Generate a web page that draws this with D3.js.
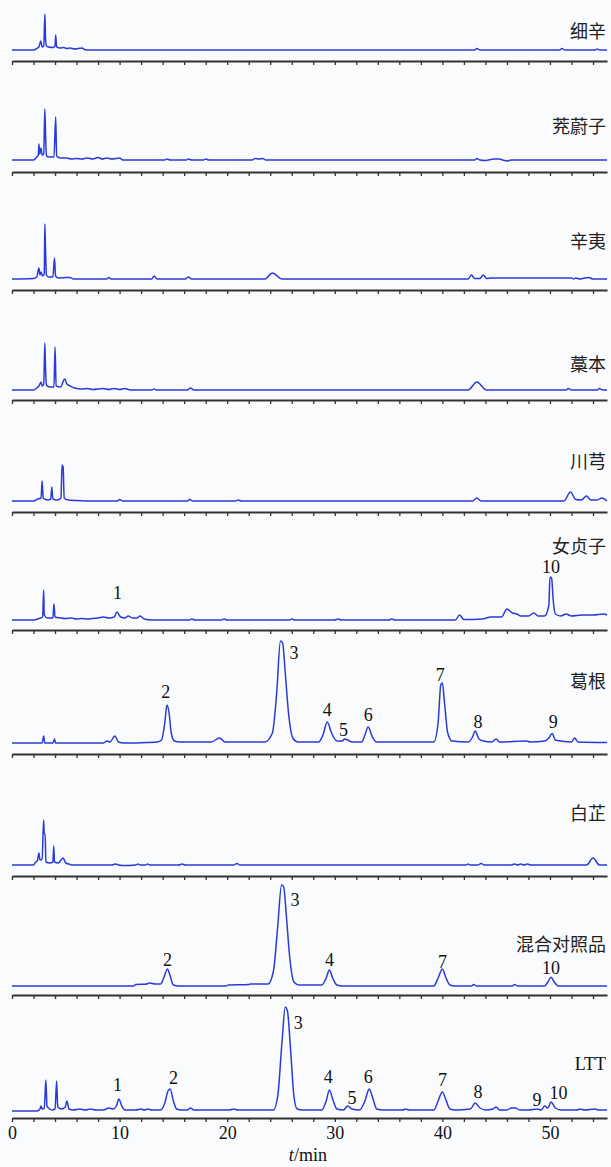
<!DOCTYPE html>
<html><head><meta charset="utf-8">
<script src="https://cdn.jsdelivr.net/npm/d3@7/dist/d3.min.js"></script>
<style>
html,body{margin:0;padding:0;background:#fafbfc;}
svg{display:block;}
.lab{font-family:"Noto Sans CJK SC","Noto Sans",sans-serif;font-size:18px;fill:#222;}
.num{font-family:"Liberation Serif","Times New Roman",serif;font-size:18px;fill:#111;}
</style></head>
<body>
<svg id="c" width="611" height="1167"></svg>
<script>
// ---------- data (time in min, signal in arbitrary units above baseline) ----------
const sampleNames = ["细辛","茺蔚子","辛夷","藁本","川芎","女贞子","葛根","白芷","混合对照品","LTT"];
const tickLabels = [0,10,20,30,40,50];
const xAxisTitle = "min";

const xixin = [[0,0],[2.0,0],[2.3,1.5],[2.5,3],[2.67,9],[2.8,3],[2.95,4],[3.06,36],[3.12,11],[3.2,4],[3.4,3],[3.8,2.5],[4.0,4],[4.06,15],[4.15,3],[4.5,2],[4.8,2.5],[5.1,1.5],[5.4,2],[5.8,1],[6.5,2],[6.8,0.3],[7.2,0],[43,0],[43.2,1.5],[43.5,0],[50.9,0],[51.1,1.5],[51.4,0],[54.2,0],[54.4,1],[54.6,0],[55.3,0]];
const chongweizi = [[0,0],[2.0,0],[2.3,3],[2.45,5],[2.5,16],[2.58,6],[2.7,12],[2.8,5],[2.95,6],[3.05,51],[3.12,25],[3.2,4],[3.5,3],[3.9,3],[4.06,43],[4.15,4],[4.5,2],[5.1,2],[5.5,1],[6.0,1.5],[6.5,1],[7.0,2],[7.5,1],[8.0,2.5],[8.4,1],[8.8,2],[9.3,1],[10,2],[10.3,0],[14.2,0],[14.4,1],[14.7,0],[16.2,0],[16.4,1],[16.7,0],[17.8,0],[18.0,1],[18.3,0],[22.3,0],[22.6,1.5],[23.0,1],[23.3,1.5],[23.6,0],[43.0,0],[43.2,1.5],[43.5,0],[44,-0.5],[44.8,1],[45.3,1],[45.6,0],[46,-1],[46.4,0],[55.3,0]];
const xinyi = [[0,0],[2.0,0.5],[2.3,2],[2.5,11],[2.6,4],[2.7,7],[2.85,3],[3.0,5],[3.05,55],[3.12,28],[3.2,4],[3.4,2],[3.8,2],[3.95,21],[4.05,3],[4.3,1],[5.0,1.5],[5.4,1.5],[5.7,0],[8.8,0],[9.0,1.5],[9.2,0],[13.0,0],[13.2,3],[13.5,0],[16.1,0],[16.4,2],[16.7,0],[23.5,0],[24.2,6],[25.1,0],[42.4,0],[42.7,4],[43.0,0.5],[43.5,0.5],[43.8,4],[44.1,0.5],[44.5,1],[52,1],[52.2,0],[52.4,1],[52.8,0],[53.2,1],[53.6,1.5],[54,0],[55.3,0]];
const gaoben = [[0,0],[2.0,0],[2.3,2],[2.5,4],[2.7,8],[2.8,4],[2.95,6],[3.05,47],[3.1,28],[3.2,5],[3.5,3],[3.9,3],[4.0,43],[4.1,4],[4.5,3],[4.9,11],[5.1,6],[5.4,4],[5.8,2],[6.5,1],[7.0,1.5],[7.5,0.5],[8.5,1.5],[9.0,0.5],[9.5,1.5],[10,0.5],[10.5,1.5],[11,0],[13,0],[13.2,1],[13.4,0],[16.3,0],[16.6,2],[16.9,0],[42.4,0],[43.2,8],[44.1,0],[51.5,0],[51.7,1.5],[52,0],[54.4,0],[54.6,1.5],[54.9,0],[55.3,0]];
const chuanxiong = [[0,0],[2.0,0],[2.4,2],[2.7,3],[2.8,20],[2.9,3],[3.3,1],[3.6,2],[3.7,14],[3.8,2],[4.2,1],[4.55,3],[4.65,36],[4.75,34],[4.85,3],[5.2,1],[6,0.5],[7.5,0],[9.8,0],[10,1.5],[10.3,0],[16.3,0],[16.5,1.5],[16.8,0],[20.8,0],[21,1],[21.3,0],[42.8,0],[43.2,3],[43.6,0],[51.3,0],[51.9,9],[52.4,1.5],[52.9,1],[53.4,5],[53.8,1],[54.4,1],[54.8,3],[55.3,0]];
const nvzhenzi = [[0,0],[2.0,0],[2.5,1.5],[2.85,3],[2.94,30],[3.0,5],[3.3,2],[3.8,2],[3.9,16],[4.0,3],[4.5,2],[5,1.5],[5.5,2],[6,1],[6.5,1.5],[7,1],[7.5,1.5],[8.0,2],[8.5,3],[9,2],[9.5,3],[9.75,8],[10.1,3],[10.5,2],[10.8,4],[11.2,2],[11.6,2],[11.9,4],[12.3,1],[13,0],[16.5,0],[16.7,1],[17,0],[19.5,0],[19.7,1],[20,0],[25.8,0],[26,1],[26.3,0],[30,0],[30.3,1],[30.6,0],[35,0],[35.3,1],[35.6,0],[41.2,0],[41.6,5],[42,0.5],[43.7,1],[44.5,3],[45.5,3],[46,11],[46.5,7],[46.9,6],[47.3,4],[48,4],[48.5,7],[48.9,4],[49.5,4],[49.9,15],[50.0,43],[50.15,42],[50.3,20],[50.5,6],[51,4],[51.5,6],[52,4],[53,5],[54,5],[55,6],[55.3,5]];
const gegen = [[0,0],[2.8,0],[2.94,7],[3.05,0],[3.8,0],[3.95,4],[4.05,0],[8.5,0],[8.85,2],[9.1,1],[9.56,7],[9.9,1],[10.4,0],[12.6,0.5],[13.5,1],[13.9,3],[14.2,20],[14.4,38],[14.6,30],[14.8,10],[15.1,2],[15.6,1],[18.5,1],[19.3,5],[19.8,1],[21,1],[23.5,1],[24.2,10],[24.6,50],[24.95,102],[25.15,100],[25.4,70],[25.7,30],[26.1,5],[26.6,1],[28.5,1],[28.9,8],[29.3,21],[29.7,10],[30.2,2],[30.7,2],[30.9,4],[31.2,3],[31.6,1],[32.5,1],[32.8,8],[33.1,16],[33.5,6],[33.9,1],[39.2,1],[39.6,20],[39.85,58],[40.0,60],[40.2,40],[40.5,10],[40.9,2],[42.4,1],[42.8,6],[43.05,12],[43.4,4],[43.8,2],[44.6,1],[45.0,4],[45.3,1],[47.8,2],[48.2,1],[49.5,2],[49.9,5],[50.2,9.5],[50.5,3],[51,2],[52,1],[52.3,5],[52.6,1],[55.3,0.5]];
const baizhi = [[0,0],[2.0,0],[2.2,3],[2.35,4],[2.5,12],[2.6,5],[2.8,6],[2.94,45],[3.0,31],[3.08,31],[3.15,3],[3.5,2],[3.8,3],[3.88,19],[3.95,3],[4.3,2],[4.75,7],[5.0,2],[5.3,1],[5.5,0],[9.3,0],[9.6,1],[9.9,0],[10.3,-0.5],[11.5,0],[11.7,1],[11.9,0],[12.4,0],[12.6,1],[12.8,0],[15.5,0],[15.8,1],[16.1,0],[20.6,0],[20.9,1.5],[21.2,0],[42.2,0],[42.4,1],[42.6,0],[43.3,0],[43.6,1.5],[43.9,0],[46.4,0],[46.7,1],[47.0,0],[47.3,1],[47.6,0],[47.9,1],[48.2,0],[53.4,0],[54,7],[54.6,0],[55.3,0]];
const mixedStd = [[0,0],[11.3,0],[11.5,1.5],[12.5,2],[12.8,3],[13.3,2],[13.8,2],[14.1,8],[14.45,17],[14.7,10],[15.0,1],[15.5,0],[19.9,0],[20.1,1],[22.0,1.5],[22.2,2],[23.8,2],[24.3,15],[24.7,60],[25.05,101],[25.25,99],[25.5,70],[25.8,30],[26.2,4],[26.7,1],[28.8,1],[29.2,8],[29.5,16],[29.8,8],[30.2,1],[30.7,0],[39.2,0],[39.6,8],[40.0,17],[40.3,9],[40.7,1],[41.2,0],[42.7,0],[42.9,1.5],[43.2,0],[46.5,0],[46.7,1.5],[47.0,0],[49.5,0],[49.8,4],[50.1,8.7],[50.4,4],[50.8,0],[55.3,0]];
const ltt = [[0,0],[2.3,0],[2.6,2],[2.7,5],[2.8,2],[3.0,3],[3.15,31],[3.25,5],[3.5,2],[3.7,1],[4.0,2],[4.15,30],[4.25,4],[4.6,2],[4.95,4],[5.1,10],[5.3,2],[5.7,1],[6.3,2],[6.8,1],[7.3,2],[7.8,1],[8.5,1],[9.0,3],[9.4,2],[9.7,5],[9.93,12],[10.2,5],[10.5,1],[11.5,1],[12.0,2],[12.3,1],[12.6,2],[13.0,1],[13.8,1],[14.2,8],[14.5,20],[14.7,22],[15.0,10],[15.3,2],[15.8,1],[16.3,1],[16.6,3],[16.9,1],[20.2,1],[20.6,2],[21.0,1],[24.3,1],[24.7,15],[25.1,70],[25.4,104],[25.6,100],[25.9,60],[26.2,15],[26.5,2],[27.0,1],[28.8,1],[29.2,10],[29.5,21],[29.8,12],[30.2,2],[30.8,1],[31.2,5],[31.6,2],[32.3,1],[32.8,10],[33.2,22],[33.5,14],[33.9,2],[34.5,1],[36.3,1],[36.6,2],[36.9,1],[39.2,1],[39.6,10],[40.0,19],[40.3,12],[40.7,2],[41.2,1],[42.6,2],[43.05,8],[43.5,3],[44.0,1],[44.7,2],[45.0,4],[45.3,1],[46.0,1],[46.4,3],[46.8,3],[47.2,1],[48.0,1],[48.8,2],[49.2,1],[49.5,5],[49.8,3],[50.1,9],[50.5,3],[51,1],[52.5,1],[52.8,2],[53.2,1],[54.2,2],[54.5,1],[55.3,1]];

const traces = [xixin, chongweizi, xinyi, gaoben, chuanxiong, nvzhenzi, gegen, baizhi, mixedStd, ltt];

// peak annotations per panel: [time position of label, label text]
const peakLabels = [
  [], [], [], [], [],
  [[9.8,"1"],[50.1,"10"]],
  [[14.3,"2"],[26.2,"3"],[29.3,"4"],[30.8,"5"],[33.1,"6"],[39.8,"7"],[43.3,"8"],[50.3,"9"]],
  [],
  [[14.45,"2"],[26.3,"3"],[29.5,"4"],[40.0,"7"],[50.1,"10"]],
  [[9.8,"1"],[15.0,"2"],[26.6,"3"],[29.4,"4"],[31.6,"5"],[33.1,"6"],[40.0,"7"],[43.3,"8"],[48.8,"9"],[50.8,"10"]]
];

// ---------- layout ----------
const axisY     = [61,172,290,400,512,630,754,876,995,1118];
const baseY     = [50,160,279,390,501,620,743,865,986,1111];
const nameY     = [30,125,240,363,460,545,680,812,943,1064];
const peakLabY  = [
  [],[],[],[],[],
  [593,567],
  [692,653,710,730,715,675,722,722],
  [],
  [960,900,960,962,968],
  [1085,1078,1023,1077,1098,1077,1080,1092,1100,1093]
];

const svg = d3.select("#c");
const x = d3.scaleLinear().domain([0,55.3]).range([12,607]);
const blue = "#2a3ad8";

traces.forEach((data,i)=>{
  const y = d3.scaleLinear().domain([0,100]).range([baseY[i], baseY[i]-100]);
  const line = d3.line().x(d=>x(d[0])).y(d=>y(d[1])).curve(d3.curveMonotoneX);
  svg.append("path").datum(data).attr("d",line)
     .attr("fill","none").attr("stroke",blue).attr("stroke-width",1.5).attr("stroke-linejoin","round");

  const last = i===traces.length-1;
  const ax = d3.axisBottom(x).tickValues(d3.range(0,56,2)).tickSize(4).tickSizeOuter(0)
      .tickFormat(d=> (last && tickLabels.includes(d)) ? d : "");
  const g = svg.append("g").attr("transform",`translate(0,${axisY[i]})`).call(ax);
  g.select(".domain").attr("stroke","#333").attr("stroke-width",2.2);
  g.selectAll(".tick line").attr("stroke","#333").attr("stroke-width",1.3);
  g.selectAll(".tick text").attr("class","num").attr("font-size",null).attr("font-family",null)
      .attr("fill","#111").attr("dy",null).attr("y",21);

  svg.append("text").attr("class", i===9 ? "num" : "lab")
     .attr("x",606).attr("y",nameY[i]).attr("text-anchor","end")
     .attr("dominant-baseline","central").text(sampleNames[i]);

  peakLabels[i].forEach((p,j)=>{
    svg.append("text").attr("class","num").attr("x",x(p[0])).attr("y",peakLabY[i][j])
       .attr("text-anchor","middle").attr("dominant-baseline","central").text(p[1]);
  });
});

const t = svg.append("text").attr("class","num").attr("x",x(27.5)).attr("y",1155)
   .attr("text-anchor","middle").attr("dominant-baseline","central");
t.append("tspan").attr("font-style","italic").text("t");
t.append("tspan").text("/" + xAxisTitle);
</script>
</body></html>
